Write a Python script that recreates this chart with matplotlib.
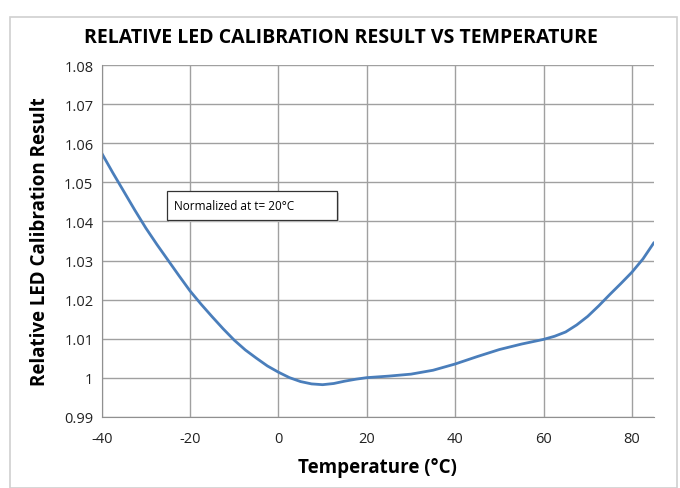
import matplotlib
matplotlib.use("Agg")
import matplotlib.pyplot as plt
from matplotlib.patches import Rectangle

temperature = [-40, -37.5, -35, -32.5, -30, -27.5, -25, -22.5, -20, -17.5, -15, -12.5, -10, -7.5, -5, -2.5, 0,
               2.5, 5, 7.5, 10, 12.5, 15, 17.5, 20, 25, 30, 35, 40, 45, 50, 55, 60, 62.5, 65, 67.5, 70, 72.5,
               75, 77.5, 80, 82.5, 85]
relative = [1.0575, 1.0525, 1.0477, 1.0429, 1.0383, 1.0341, 1.0301, 1.0261, 1.0222, 1.0188, 1.0156, 1.0125, 1.0096,
            1.0071, 1.0050, 1.0030, 1.0014,
            1.0000, 0.9990, 0.9984, 0.9982, 0.9985, 0.9991, 0.9996, 1.0000, 1.0004, 1.0009, 1.0019, 1.0035,
            1.0054, 1.0072, 1.0086, 1.0098, 1.0106, 1.0117, 1.0135, 1.0157, 1.0184, 1.0213, 1.0241, 1.0270,
            1.0304, 1.0346]
x_ticks = [-40, -20, 0, 20, 40, 60, 80]
y_ticks = [0.99, 1.00, 1.01, 1.02, 1.03, 1.04, 1.05, 1.06, 1.07, 1.08]
y_tick_labels = ["0.99", "1", "1.01", "1.02", "1.03", "1.04", "1.05", "1.06", "1.07", "1.08"]

plt.rcParams['font.family'] = ['Open Sans', 'DejaVu Sans']
plt.rcParams['axes.unicode_minus'] = False

fig = plt.figure(figsize=(6.8, 4.89), dpi=100)
W, H = 680, 489
# outer chart border
fig.patches.append(Rectangle((10 / W, 0), 667 / W, 1 - 18 / H, transform=fig.transFigure,
                             fill=False, edgecolor='#d0d0d0', linewidth=1.2))

ax = fig.add_axes([101.7 / W, 1 - 417.7 / H, (654 - 101.7) / W, (417.7 - 66.3) / H])
ax.plot(temperature, relative, color='#4a7ebb', linewidth=2.0, solid_joinstyle='round',
        solid_capstyle='round')
ax.set_xlim(-40, 85)
ax.set_ylim(0.99, 1.08)
ax.set_xticks(x_ticks)
ax.set_yticks(y_ticks)
ax.set_yticklabels(y_tick_labels)
ax.grid(True, color='#a0a0a0', linewidth=1.0)
ax.set_axisbelow(True)
for s in ['top', 'right']:
    ax.spines[s].set_visible(False)
for s in ['left', 'bottom']:
    ax.spines[s].set_color('#909090')
ax.tick_params(axis='both', length=0, labelsize=10.5, colors='#222222', pad=6)
ax.tick_params(axis='x', pad=10)

ax.set_xlabel('Temperature (°C)', fontsize=13.5, fontweight='bold', labelpad=8)
ax.set_ylabel('Relative LED Calibration Result', fontsize=13.5, fontweight='bold', labelpad=10)
fig.text(0.5 * (80 + 602) / W, 1 - 38 / H, 'RELATIVE LED CALIBRATION RESULT VS TEMPERATURE',
         ha='center', va='center', fontsize=14, fontweight='bold')

# annotation box
bx0, bx1 = (167 - 101.7) / 552.3, (337 - 101.7) / 552.3
by1, by0 = (417.7 - 192) / 351.4, (417.7 - 221) / 351.4
ax.add_patch(Rectangle((bx0 + 0.004, by0 - 0.006), bx1 - bx0, by1 - by0, transform=ax.transAxes,
                       facecolor='#c8c8c8', edgecolor='none', zorder=4))
ax.add_patch(Rectangle((bx0, by0), bx1 - bx0, by1 - by0, transform=ax.transAxes,
                       facecolor='white', edgecolor='#333333', linewidth=0.9, zorder=5))
ax.text(bx0 + 0.013, (by0 + by1) / 2, 'Normalized at t= 20°C', transform=ax.transAxes,
        ha='left', va='center', fontsize=8.5, zorder=6)

fig.savefig('out.png', dpi=100)
